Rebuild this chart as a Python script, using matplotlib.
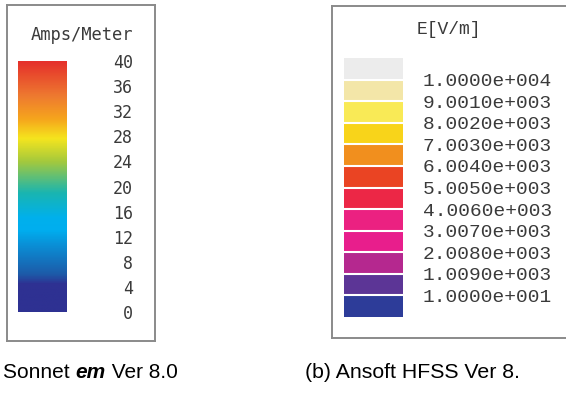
import numpy as np
import matplotlib
matplotlib.use("Agg")
import matplotlib.pyplot as plt
from matplotlib.colors import LinearSegmentedColormap, ListedColormap, BoundaryNorm
from matplotlib.cm import ScalarMappable

# (a) Sonnet: continuous scale, Amps/Meter
sonnet_ticks = [0, 4, 8, 12, 16, 20, 24, 28, 32, 36, 40]
sonnet_stops = [0, 4.4, 5.9, 10.6, 13, 15, 19, 24, 27.7, 30.8, 34.5, 40]
sonnet_colors = ["#2e3192", "#2e3192", "#1d5aa8", "#0a8fd6", "#00aeef", "#00b0ec",
                 "#1ab5b0", "#a4c93d", "#f5e51e", "#f6a51c", "#ee7a30", "#e5302b"]

# (b) HFSS: discrete bands, E[V/m]
hfss_labels = ["1.0000e+001", "1.0090e+003", "2.0080e+003", "3.0070e+003",
               "4.0060e+003", "5.0050e+003", "6.0040e+003", "7.0030e+003",
               "8.0020e+003", "9.0010e+003", "1.0000e+004"]
hfss_values = [10, 1009, 2008, 3007, 4006, 5005, 6004, 7003, 8002, 9001, 10000]
hfss_bounds = [-989] + hfss_values + [10999]
hfss_colors = ["#2d3c99", "#5c3596", "#b5288f", "#e81e8c", "#eb2181", "#ec2746",
               "#ea4423", "#f18f1e", "#f8d41a", "#f9ea56", "#f3e6a8", "#ececec"]

W, H = 566, 393
fig = plt.figure(figsize=(W / 100, H / 100), dpi=100)


def box(x0, y0, x1, y1):
    return [x0 / W, 1 - y1 / H, (x1 - x0) / W, (y1 - y0) / H]


def frame(rect):
    ax = fig.add_axes(rect)
    ax.set_xticks([])
    ax.set_yticks([])
    for s in ax.spines.values():
        s.set_color("#8a8a8a")
        s.set_linewidth(1.4)
    return ax


frame(box(7, 5, 155, 341))
frame(box(332, 6, 590, 338))

# left gradient bar
cmap_a = LinearSegmentedColormap.from_list(
    "sonnet", [(v / 40, c) for v, c in zip(sonnet_stops, sonnet_colors)])
ax_a = fig.add_axes(box(18, 58, 67, 315))
grad = np.linspace(0, 40, 400).reshape(-1, 1)
ax_a.imshow(grad, cmap=cmap_a, vmin=0, vmax=40, origin="lower",
            extent=[0, 1, 0, 40], aspect="auto")
ax_a.set_ylim(-0.5, 40.5)
ax_a.set_xticks([])
ax_a.yaxis.tick_right()
ax_a.set_yticks(sonnet_ticks)
ax_a.set_yticklabels([str(t) for t in sonnet_ticks], family="DejaVu Sans Mono",
                     fontsize=12, color="#3a3a3a", ha="right")
ax_a.tick_params(axis="y", length=0, pad=47.5)
for s in ax_a.spines.values():
    s.set_visible(False)
fig.text(82 / W, 1 - 35 / H, "Amps/Meter", family="DejaVu Sans Mono",
         fontsize=12.3, color="#3a3a3a", ha="center", va="center")

# right discrete bar
cmap_b = ListedColormap(hfss_colors)
norm_b = BoundaryNorm(hfss_bounds, cmap_b.N)
ax_b = fig.add_axes(box(344, 58, 403, 317))
cb = fig.colorbar(ScalarMappable(norm=norm_b, cmap=cmap_b), cax=ax_b,
                  boundaries=hfss_bounds, ticks=hfss_values, drawedges=True)
cb.outline.set_visible(False)
cb.dividers.set_color("white")
cb.dividers.set_linewidth(1.5)
cb.ax.minorticks_off()
cb.ax.set_yticklabels(hfss_labels, family="Liberation Mono", fontsize=14,
                      color="#3a3a3a")
cb.ax.tick_params(length=0, pad=14.4)
fig.text(449 / W, 1 - 30 / H, "E[V/m]", family="Liberation Mono",
         fontsize=13, color="#3a3a3a", ha="center", va="center")

# captions
yb = 1 - 378 / H
t1 = fig.text(3 / W, yb, "Sonnet ", family="Liberation Sans", fontsize=15,
              va="baseline")
t2 = fig.text(0, yb, "em", family="Liberation Sans", fontsize=15,
              weight="bold", style="italic", va="baseline")
fig.canvas.draw()
r = fig.canvas.get_renderer()
x = t1.get_window_extent(r).x1 / W
t2.set_x(x)
fig.canvas.draw()
x = t2.get_window_extent(r).x1 / W
fig.text(x, yb, " Ver 8.0", family="Liberation Sans", fontsize=15, va="baseline")
fig.text(305 / W, yb, "(b) Ansoft HFSS Ver 8.", family="Liberation Sans",
         fontsize=15.3, va="baseline")

fig.savefig("out.png", dpi=100)
